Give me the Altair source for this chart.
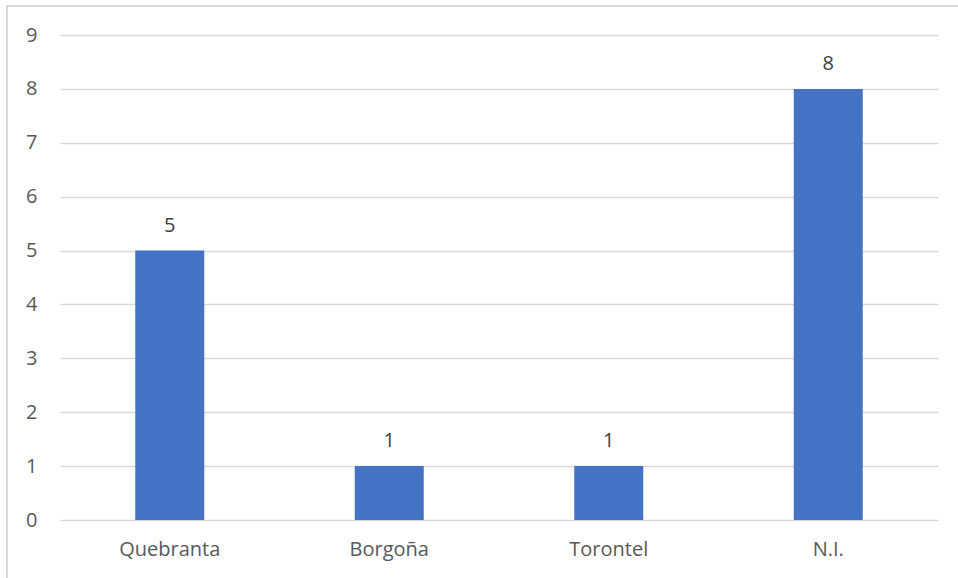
import altair as alt
import pandas as pd

categories = ["Quebranta", "Borgoña", "Torontel", "N.I."]
values = [5, 1, 1, 8]

df = pd.DataFrame({"cat": categories, "val": values})

FONT = "Open Sans"

base = alt.Chart(df).encode(
    x=alt.X("cat:N", sort=categories, title=None,
            scale=alt.Scale(paddingInner=0, paddingOuter=0),
            axis=alt.Axis(labelAngle=0, labelFontSize=20, labelColor="#595959",
                          labelFont=FONT, labelPadding=19, ticks=False, domain=False,
                          grid=False)),
)

bars = base.mark_bar(size=69, color="#4472C4").encode(
    y=alt.Y("val:Q", title=None,
            scale=alt.Scale(domain=[0, 9], nice=False),
            axis=alt.Axis(values=list(range(10)), format="d", labelFontSize=20,
                          labelColor="#595959", labelFont=FONT, labelPadding=23,
                          ticks=False, domain=False,
                          gridColor="#d9d9d9", gridWidth=1.3)),
)

labels = base.mark_text(dy=-25, fontSize=20, color="#404040", font=FONT).encode(
    y=alt.Y("val:Q"),
    text=alt.Text("val:Q"),
)

border = alt.Chart(df).mark_rect(fill=None, stroke="#d9d9d9", strokeWidth=1.5).encode(
    x=alt.value(-53), x2=alt.value(960), y=alt.value(-29), y2=alt.value(600)
)

chart = alt.layer(bars, labels, border).properties(
    width=878, height=485,
    background="white",
    autosize=alt.AutoSizeParams(type="none"),
    padding={"left": 60, "top": 35, "right": 20, "bottom": 58},
).configure_view(stroke=None)

chart.save("out.html", embed_options={"renderer": "svg", "actions": False})
